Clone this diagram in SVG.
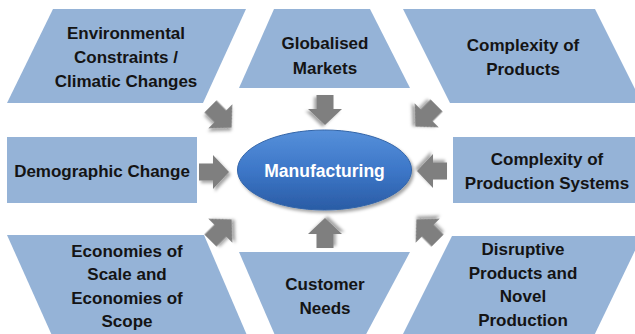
<svg xmlns="http://www.w3.org/2000/svg" width="635" height="334" viewBox="0 0 635 334">
  <defs>
    <linearGradient id="hubFill" x1="0" y1="0" x2="0" y2="1">
      <stop offset="0" stop-color="#5690da"/>
      <stop offset="0.5" stop-color="#3d77c8"/>
      <stop offset="1" stop-color="#2a5ca5"/>
    </linearGradient>
    <filter id="shadow" x="-30%" y="-30%" width="160%" height="160%">
      <feDropShadow dx="2" dy="2.5" stdDeviation="1.6" flood-color="#000" flood-opacity="0.35"/>
    </filter>
    <!-- block arrow pointing along +x, centred on the origin -->
    <path id="arrow" d="M-15,-8.5 L-1,-8.5 L-1,-17 L15,0 L-1,17 L-1,8.5 L-15,8.5 Z"/>
  </defs>
  <style>
    .box { fill: #95b3d7; }
    .label { font-family: "Liberation Sans", Arial, sans-serif; font-weight: bold; font-size: 17px; fill: #141414; text-anchor: middle; }
    .hubtext { font-family: "Liberation Sans", Arial, sans-serif; font-weight: bold; font-size: 17.5px; fill: #ffffff; text-anchor: middle; }
    .arr { fill: #7f7f7f; filter: url(#shadow); }
  </style>

  <rect width="635" height="334" fill="#ffffff"/>

  <g id="environmental">
    <polygon class="box" points="53,9 246,9 203,103 7,103"/>
    <text class="label" x="126" y="39">Environmental</text>
    <text class="label" x="126" y="63">Constraints /</text>
    <text class="label" x="126" y="87">Climatic Changes</text>
  </g>

  <g id="globalised">
    <polygon class="box" points="274,9 370,9 410,88 239,88"/>
    <text class="label" x="325" y="49">Globalised</text>
    <text class="label" x="325" y="74">Markets</text>
  </g>

  <g id="complexity-products">
    <polygon class="box" points="403,9 595,9 642,103 450,103"/>
    <text class="label" x="523" y="51">Complexity of</text>
    <text class="label" x="523" y="75">Products</text>
  </g>

  <g id="demographic">
    <rect class="box" x="7" y="137" width="190" height="66"/>
    <text class="label" x="102" y="177">Demographic Change</text>
  </g>

  <g id="complexity-systems">
    <rect class="box" x="453" y="137" width="185" height="66"/>
    <text class="label" x="547" y="165">Complexity of</text>
    <text class="label" x="547" y="189">Production Systems</text>
  </g>

  <g id="economies">
    <polygon class="box" points="7,235 204,235 249,340 54,340"/>
    <text class="label" x="127" y="257">Economies of</text>
    <text class="label" x="127" y="280">Scale and</text>
    <text class="label" x="127" y="304">Economies of</text>
    <text class="label" x="127" y="327">Scope</text>
  </g>

  <g id="customer">
    <polygon class="box" points="239,252 410,252 363,340 277,340"/>
    <text class="label" x="325" y="290">Customer</text>
    <text class="label" x="325" y="314">Needs</text>
  </g>

  <g id="disruptive">
    <polygon class="box" points="452,236 642,236 592,340 400,340"/>
    <text class="label" x="523" y="255">Disruptive</text>
    <text class="label" x="523" y="279">Products and</text>
    <text class="label" x="523" y="302">Novel</text>
    <text class="label" x="523" y="326">Production</text>
  </g>

  <g id="connectors">
    <use href="#arrow" class="arr" transform="translate(221,117) rotate(45)"/>
    <use href="#arrow" class="arr" transform="translate(325,110) rotate(90)"/>
    <use href="#arrow" class="arr" transform="translate(426,116) rotate(135)"/>
    <use href="#arrow" class="arr" transform="translate(214,172)"/>
    <use href="#arrow" class="arr" transform="translate(432,171) rotate(180)"/>
    <use href="#arrow" class="arr" transform="translate(221,230) rotate(-45)"/>
    <use href="#arrow" class="arr" transform="translate(325,233) rotate(-90)"/>
    <use href="#arrow" class="arr" transform="translate(427,230) rotate(-135)"/>
  </g>

  <g id="manufacturing">
    <ellipse cx="324.5" cy="170" rx="87" ry="40" fill="url(#hubFill)" stroke="#3465a8" stroke-width="1" filter="url(#shadow)"/>
    <text class="hubtext" x="324.5" y="177">Manufacturing</text>
  </g>
</svg>
